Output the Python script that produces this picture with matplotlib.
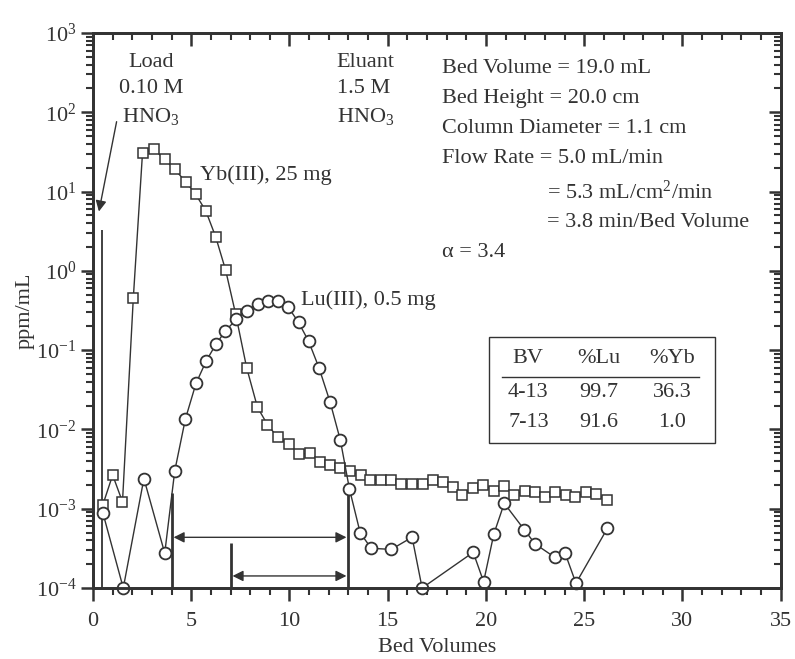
import matplotlib
matplotlib.use('Agg')
import matplotlib.pyplot as plt
from matplotlib.patches import Rectangle
from matplotlib.ticker import LogLocator, MultipleLocator, FixedLocator

plt.rcParams['font.family'] = ['Liberation Serif', 'DejaVu Serif']
plt.rcParams['mathtext.fontset'] = 'custom'
plt.rcParams['mathtext.rm'] = 'Liberation Serif'
plt.rcParams['mathtext.it'] = 'Liberation Serif:italic'

# Yb(III) elution (squares)
yb_bv = [0.5, 1.0, 1.5, 2.05, 2.52, 3.1, 3.65, 4.16, 4.72, 5.23, 5.74, 6.24, 6.75, 7.26,
         7.82, 8.37, 8.88, 9.39, 9.95, 10.5, 11.05, 11.56, 12.07, 12.58, 13.1, 13.62,
         14.12, 14.65, 15.18, 15.68, 16.25, 16.78, 17.28, 17.8, 18.3, 18.8, 19.34,
         19.87, 20.4, 20.93, 21.45, 21.97, 22.5, 23.02, 23.5, 24.05, 24.55, 25.08,
         25.62, 26.17]
yb_ppm = [1.12e-3, 2.66e-3, 1.22e-3, 0.45, 31, 34, 25.5, 19, 13.3, 9.2, 5.7, 2.7, 1.02,
          0.285, 0.060, 0.019, 0.0115, 8.0e-3, 6.6e-3, 4.9e-3, 5.0e-3, 3.9e-3, 3.6e-3,
          3.25e-3, 2.95e-3, 2.63e-3, 2.33e-3, 2.3e-3, 2.3e-3, 2.07e-3, 2.07e-3, 2.07e-3,
          2.3e-3, 2.2e-3, 1.9e-3, 1.5e-3, 1.84e-3, 2.02e-3, 1.68e-3, 1.92e-3, 1.5e-3,
          1.68e-3, 1.62e-3, 1.4e-3, 1.62e-3, 1.49e-3, 1.41e-3, 1.63e-3, 1.54e-3, 1.27e-3]

# Lu(III) elution (circles)
lu_bv = [0.5, 1.54, 2.59, 3.65, 4.16, 4.7, 5.24, 5.76, 6.25, 6.74, 7.3, 7.83, 8.38, 8.9,
         9.41, 9.93, 10.46, 10.97, 11.5, 12.07, 12.59, 13.05, 13.6, 14.16, 15.18, 16.24,
         16.75, 19.35, 19.88, 20.4, 20.93, 21.96, 22.5, 23.5, 24.03, 24.58, 26.18]
lu_ppm = [8.9e-4, 1.0e-4, 2.4e-3, 2.75e-4, 3.0e-3, 0.0135, 0.038, 0.073, 0.118, 0.175,
          0.245, 0.315, 0.38, 0.42, 0.42, 0.35, 0.224, 0.13, 0.06, 0.022, 7.3e-3, 1.78e-3,
          4.95e-4, 3.17e-4, 3.07e-4, 4.37e-4, 1.0e-4, 2.82e-4, 1.2e-4, 4.8e-4, 1.17e-3,
          5.4e-4, 3.6e-4, 2.44e-4, 2.74e-4, 1.15e-4, 5.66e-4]

# cut markers: (bed volume, top of line)
cut_bv = [4, 7, 13]
cut_top = [1.6e-3, 3.7e-4, 1.6e-3]
load_bv = 0.44
load_top = 3.3

table_cols = ['BV', '%Lu', '%Yb']
table_rows = [['4-13', '99.7', '36.3'],
              ['7-13', '91.6', '1.0']]

info_lines = ['Bed Volume = 19.0 mL',
              'Bed Height = 20.0 cm',
              'Column Diameter = 1.1 cm',
              'Flow Rate = 5.0 mL/min']
info_cont = ['= 5.3 mL/cm$^2$/min',
             '= 3.8 min/Bed Volume']

ink = '#333333'
fs = 16

fig = plt.figure(figsize=(7.95, 6.59), dpi=100)
ax = fig.add_axes([0.117, 0.1077, 0.865, 0.8423])

ax.plot(yb_bv, yb_ppm, '-s', color=ink, lw=1.0, ms=7.5, mfc='white', mec=ink, mew=1.1,
        zorder=4, clip_on=False)
ax.plot(lu_bv, lu_ppm, '-o', color=ink, lw=1.0, ms=8.5, mfc='white', mec=ink, mew=1.3,
        zorder=5, clip_on=False)

ax.set_yscale('log')
ax.set_xlim(0, 35)
ax.set_ylim(1e-4, 1e3)

# cut lines
ax.vlines([load_bv], 1e-4, load_top, color=ink, lw=1.3)
ax.vlines(cut_bv, 1e-4, cut_top, color=ink, lw=2.0)

arrow = dict(arrowstyle='<|-|>', color=ink, lw=1.0, mutation_scale=16, shrinkA=0, shrinkB=0)
ax.annotate('', xy=(cut_bv[0] + 0.1, 4.36e-4), xytext=(cut_bv[2] - 0.1, 4.36e-4),
            arrowprops=arrow)
ax.annotate('', xy=(cut_bv[1] + 0.1, 1.42e-4), xytext=(cut_bv[2] - 0.1, 1.42e-4),
            arrowprops=arrow)
ax.annotate('', xy=(0.3, 5.6), xytext=(1.2, 76),
            arrowprops=dict(arrowstyle='-|>', color=ink, lw=1.0, mutation_scale=16,
                            shrinkA=0, shrinkB=0))

# text annotations
ax.text(2.95, 190, 'Load\n0.10 M\nHNO$_3$', ha='center', va='center', fontsize=fs,
        color=ink, linespacing=1.5)
ax.text(12.4, 190, 'Eluant\n1.5 M\nHNO$_3$', ha='left', va='center', fontsize=fs,
        color=ink, linespacing=1.5)
ax.text(5.45, 16, 'Yb(III), 25 mg', ha='left', va='center', fontsize=fs, color=ink)
ax.text(10.6, 0.43, 'Lu(III), 0.5 mg', ha='left', va='center', fontsize=fs, color=ink)

ylines = [0.936, 0.882, 0.828, 0.774]
for s, yy in zip(info_lines, ylines):
    ax.text(0.507, yy, s, transform=ax.transAxes, ha='left', va='center', fontsize=fs,
            color=ink)
for s, yy in zip(info_cont, [0.713, 0.659]):
    ax.text(0.66, yy, s, transform=ax.transAxes, ha='left', va='center', fontsize=fs,
            color=ink)
ax.text(0.507, 0.605, '\u03b1 = 3.4', transform=ax.transAxes, ha='left', va='center',
        fontsize=fs, color=ink)

# small results table
ax.add_patch(Rectangle((0.576, 0.262), 0.329, 0.19, transform=ax.transAxes,
                       fill=False, ec=ink, lw=1.0, zorder=6))
ax.plot([0.595, 0.881], [0.381, 0.381], transform=ax.transAxes, color=ink, lw=1.0)
col_x = [0.633, 0.735, 0.842]
for cx, c in zip(col_x, table_cols):
    ax.text(cx, 0.413, c, transform=ax.transAxes, ha='center', va='center', fontsize=fs,
            color=ink)
for ry, row in zip([0.353, 0.298], table_rows):
    for cx, c in zip(col_x, row):
        ax.text(cx, ry, c, transform=ax.transAxes, ha='center', va='center', fontsize=fs,
                color=ink)

ax.set_xlabel('Bed Volumes', fontsize=fs, color=ink, labelpad=5)
ax.set_ylabel('ppm/mL', fontsize=fs, color=ink, labelpad=1)

# ticks: outward on bottom/left, inward on top/right
ax.xaxis.set_major_locator(MultipleLocator(5))
ax.xaxis.set_minor_locator(MultipleLocator(1))
ax.yaxis.set_major_locator(FixedLocator([1e-4, 1e-3, 1e-2, 1e-1, 1, 10, 100, 1000]))
ax.yaxis.set_minor_locator(LogLocator(base=10, subs=range(2, 10), numticks=20))
ax.set_yticklabels([r'$10^{-4}$', r'$10^{-3}$', r'$10^{-2}$', r'$10^{-1}$', r'$10^{0}$',
                    r'$10^{1}$', r'$10^{2}$', r'$10^{3}$'])
ax.tick_params(which='both', direction='out', top=False, right=False, colors=ink,
               labelsize=fs)
ax.tick_params(which='major', length=9, width=1.8)
ax.tick_params(which='minor', length=5, width=1.5)
ax.tick_params(axis='x', pad=8)
ax.tick_params(axis='y', pad=3)

ax2 = ax.twinx()
ax2.set_yscale('log')
ax2.set_ylim(ax.get_ylim())
ax2.yaxis.set_major_locator(FixedLocator([1e-4, 1e-3, 1e-2, 1e-1, 1, 10, 100, 1000]))
ax2.yaxis.set_minor_locator(LogLocator(base=10, subs=range(2, 10), numticks=20))
ax2.tick_params(which='both', direction='in', labelright=False, colors=ink)
ax2.tick_params(which='major', length=9, width=1.8)
ax2.tick_params(which='minor', length=5, width=1.5)
ax3 = ax.twiny()
ax3.set_xlim(ax.get_xlim())
ax3.xaxis.set_major_locator(MultipleLocator(5))
ax3.xaxis.set_minor_locator(MultipleLocator(1))
ax3.tick_params(which='both', direction='in', labeltop=False, colors=ink)
ax3.tick_params(which='major', length=9, width=1.8)
ax3.tick_params(which='minor', length=5, width=1.5)

for a in (ax, ax2, ax3):
    for sp in a.spines.values():
        sp.set_linewidth(1.8)
        sp.set_color(ink)

fig.savefig('out.png', dpi=100)
